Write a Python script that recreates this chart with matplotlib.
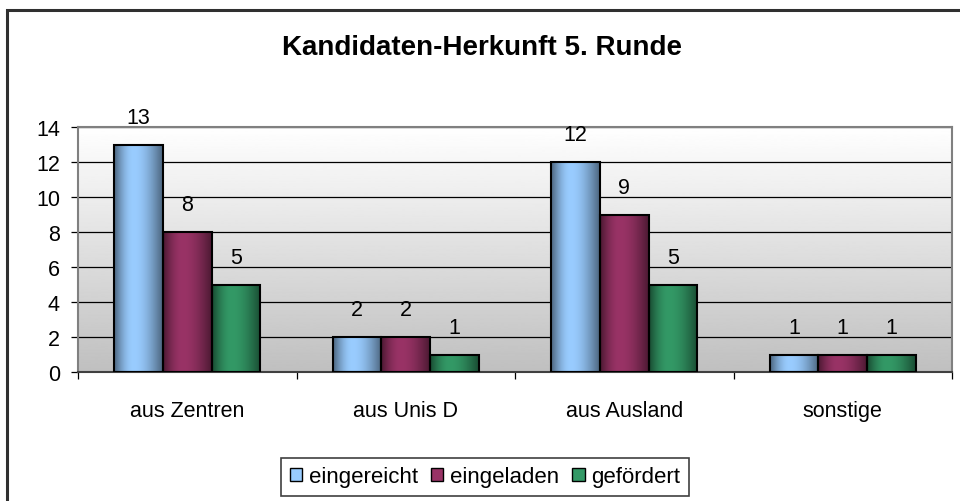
import matplotlib
matplotlib.use('Agg')
import matplotlib.pyplot as plt
from matplotlib.patches import Patch, Rectangle
import numpy as np

plt.rcParams['font.family'] = ['Liberation Sans', 'DejaVu Sans']

categories = ['aus Zentren', 'aus Unis D', 'aus Ausland', 'sonstige']
series_names = ['eingereicht', 'eingeladen', 'gefördert']
eingereicht = [13, 2, 12, 1]
eingeladen = [8, 2, 9, 1]
gefoerdert = [5, 1, 5, 1]
series_values = [eingereicht, eingeladen, gefoerdert]
y_ticks = [0, 2, 4, 6, 8, 10, 12, 14]
title = 'Kandidaten-Herkunft 5. Runde'

base_colors = ['#99ccff', '#993366', '#339966']


def bar_gradient(hex_color, n=64):
    # horizontal shading like the old Excel bars: dark edges, bright left of centre
    rgb = np.array(matplotlib.colors.to_rgb(hex_color))
    t = np.linspace(0, 1, n)
    k = np.where(t < 0.4, t / 0.4, (1 - t) / 0.6)
    k = 0.5 + 0.5 * np.sin(k * np.pi / 2)
    img = rgb[None, :] * k[:, None]
    return img[None, :, :]


fig = plt.figure(figsize=(9.6, 5.02), dpi=100)
ax = fig.add_axes([78 / 960, 1 - 373 / 502, 874 / 960, 245 / 502])

# outer chart frame (cropped on right/bottom)
fig.patches.append(Rectangle((7 / 960, -0.1), 1.2, 1 - 11 / 502 + 0.1,
                             transform=fig.transFigure, fill=False,
                             edgecolor='#303030', linewidth=2.2, zorder=0))

# plot area gradient
bg = np.linspace(0.75, 1.0, 256)[:, None]
ax.imshow(bg, extent=[-0.5, len(categories) - 0.5, 0, 14], aspect='auto',
          cmap='gray', vmin=0, vmax=1, origin='lower', zorder=0)

x = np.arange(len(categories))
width = 0.223
for idx, vals in enumerate(series_values):
    offs = (idx - 1) * width
    bars = ax.bar(x + offs, vals, width=width, fill=False, edgecolor='black',
                  linewidth=1.5, zorder=3)
    grad = bar_gradient(base_colors[idx])
    for b, v in zip(bars, vals):
        ax.imshow(grad, extent=[b.get_x(), b.get_x() + b.get_width(), 0, b.get_height()],
                  aspect='auto', zorder=2)
        ax.annotate(str(v), (b.get_x() + b.get_width() / 2, v), xytext=(0, 12),
                    textcoords='offset points', ha='center', va='bottom', fontsize=15.5)

ax.set_xlim(-0.5, len(categories) - 0.5)
ax.set_ylim(0, 14)
ax.set_yticks(y_ticks)
ax.yaxis.grid(True, color='black', linewidth=0.9, zorder=1)
ax.set_axisbelow(True)
ax.tick_params(axis='y', labelsize=15.5, length=5, width=0.9, pad=8)

ax.set_xticks(x)
ax.set_xticklabels(categories)
ax.set_xticks(np.arange(len(categories) + 1) - 0.5, minor=True)
ax.tick_params(axis='x', which='major', length=0, labelsize=15.5, pad=20)
ax.tick_params(axis='x', which='minor', length=5, width=0.9)

for side in ['top', 'right']:
    ax.spines[side].set_color('#808080')
    ax.spines[side].set_linewidth(1.5)
ax.spines['left'].set_color('#808080')
ax.spines['left'].set_linewidth(1.5)
ax.spines['bottom'].set_color('#404040')
ax.spines['bottom'].set_linewidth(1.5)

fig.text(482 / 960, 1 - 48 / 502, title, ha='center', va='center',
         fontsize=20, fontweight='bold')

handles = [Patch(facecolor=c, edgecolor='black', linewidth=1.0) for c in base_colors]
leg = fig.legend(handles, series_names, loc='center', bbox_to_anchor=(485 / 960, 1 - 478 / 502),
                 ncol=3, fontsize=16, handlelength=0.55, handleheight=0.55,
                 handletextpad=0.3, columnspacing=0.6, borderpad=0.4,
                 fancybox=False, edgecolor='#404040', framealpha=1)
leg.get_frame().set_linewidth(1.2)

fig.savefig('out.png', dpi=100)
